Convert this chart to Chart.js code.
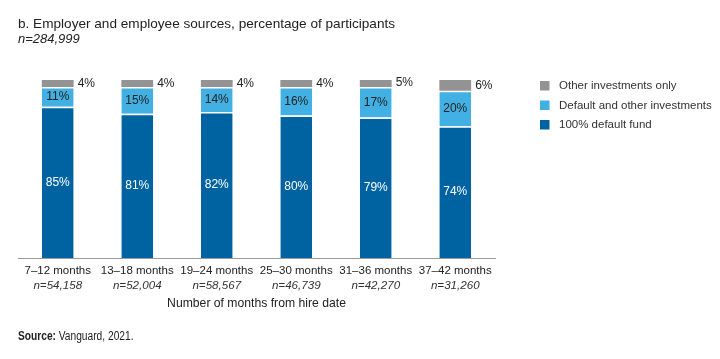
<!DOCTYPE html>
<html>
<head>
<meta charset="utf-8">
<script src="https://cdn.jsdelivr.net/npm/chart.js@4/dist/chart.umd.min.js"></script>
<style>
  html, body { margin: 0; padding: 0; background: #fff; }
  #wrap { width: 720px; height: 359px; position: relative; }
</style>
</head>
<body>
<div id="wrap"><canvas id="c" width="720" height="359"></canvas></div>
<script>
const categories = ['7–12 months', '13–18 months', '19–24 months', '25–30 months', '31–36 months', '37–42 months'];
const sampleSizes = ['n=54,158', 'n=52,004', 'n=58,567', 'n=46,739', 'n=42,270', 'n=31,260'];
const defaultFund = [85, 81, 82, 80, 79, 74];
const defaultAndOther = [11, 15, 14, 16, 17, 20];
const otherOnly = [4, 4, 4, 4, 5, 6];
const seriesNames = ['100% default fund', 'Default and other investments', 'Other investments only'];
const titleText = 'b. Employer and employee sources, percentage of participants';
const subtitleText = 'n=284,999';
const axisTitle = 'Number of months from hire date';
const sourceBold = 'Source:';
const sourceText = ' Vanguard, 2021.';

const COLORS = ['#0063A1', '#42B0E2', '#939393'];
const FONT = '"Liberation Sans", Arial, sans-serif';

const textPlugin = {
  id: 'texts',
  afterDraw(chart) {
    const ctx = chart.ctx;
    ctx.save();
    // title + subtitle
    ctx.textBaseline = 'middle';
    ctx.textAlign = 'left';
    ctx.fillStyle = '#222';
    ctx.font = '13.6px ' + FONT;
    ctx.fillText(titleText, 18, 24);
    ctx.font = 'italic 13px ' + FONT;
    ctx.fillText(subtitleText, 18, 39);

    // sample sizes below category labels
    const xs = chart.scales.x;
    ctx.font = 'italic 11.6px ' + FONT;
    ctx.textAlign = 'center';
    ctx.fillStyle = '#333';
    sampleSizes.forEach((s, i) => {
      ctx.fillText(s, xs.getPixelForValue(i), 286);
    });

    // legend (reverse order)
    ctx.textAlign = 'left';
    ctx.font = '11.5px ' + FONT;
    const order = [2, 1, 0];
    order.forEach((di, k) => {
      const y = 85.5 + k * 19.5;
      ctx.fillStyle = chart.data.datasets[di].backgroundColor;
      ctx.fillRect(540, y - 4.5, 9.5, 9.5);
      ctx.fillStyle = '#333';
      ctx.fillText(chart.data.datasets[di].label, 559, y + 0.5);
    });

    // source (condensed)
    ctx.translate(18, 0);
    ctx.scale(0.85, 1);
    ctx.font = 'bold 12px ' + FONT;
    ctx.fillStyle = '#222';
    ctx.fillText(sourceBold, 0, 337);
    const w = ctx.measureText(sourceBold).width;
    ctx.font = '12px ' + FONT;
    ctx.fillText(sourceText, w, 337);
    ctx.restore();
  },
  afterDatasetsDraw(chart) {
    const ctx = chart.ctx;
    ctx.save();
    ctx.textBaseline = 'middle';
    ctx.font = '12px ' + FONT;
    chart.data.datasets.forEach((ds, di) => {
      const meta = chart.getDatasetMeta(di);
      meta.data.forEach((bar, i) => {
        const v = ds.data[i];
        const cy = (bar.y + bar.base) / 2;
        if (di === 0) {
          ctx.fillStyle = '#fff';
          ctx.textAlign = 'center';
          ctx.fillText(v + '%', bar.x, cy);
        } else if (di === 1) {
          ctx.fillStyle = '#222';
          ctx.textAlign = 'center';
          ctx.fillText(v + '%', bar.x, cy);
        } else {
          ctx.fillStyle = '#222';
          ctx.textAlign = 'left';
          ctx.fillText(v + '%', bar.x + bar.width / 2 + 4, cy);
        }
      });
    });
    ctx.restore();
  }
};

new Chart(document.getElementById('c'), {
  type: 'bar',
  data: {
    labels: categories,
    datasets: [
      { label: seriesNames[0], data: defaultFund, backgroundColor: COLORS[0], borderColor: '#fff', borderWidth: {top: 1.5, left: 0, right: 0, bottom: 0}, borderSkipped: false },
      { label: seriesNames[1], data: defaultAndOther, backgroundColor: COLORS[1], borderColor: '#fff', borderWidth: {top: 1.5, left: 0, right: 0, bottom: 0}, borderSkipped: false },
      { label: seriesNames[2], data: otherOnly, backgroundColor: COLORS[2], borderWidth: 0 }
    ]
  },
  options: {
    responsive: false,
    animation: false,
    events: [],
    layout: { padding: { left: 18, right: 225, top: 80, bottom: 46 } },
    datasets: { bar: { barPercentage: 0.8, categoryPercentage: 0.5 } },
    plugins: {
      legend: { display: false },
      title: { display: false },
      tooltip: { enabled: false }
    },
    scales: {
      x: {
        stacked: true,
        grid: { display: false, drawTicks: false },
        border: { display: true, color: '#9a9a9a', width: 1 },
        ticks: { color: '#222', font: { family: FONT, size: 11.5 }, padding: 6, autoSkip: false, maxRotation: 0 },
        title: { display: true, text: axisTitle, color: '#222', font: { family: FONT, size: 12.2 }, padding: { top: 0, bottom: 2 } },
        afterFit(scale) { scale.height = 55; }
      },
      y: {
        stacked: true,
        display: false,
        min: 0,
        max: 100
      }
    }
  },
  plugins: [textPlugin]
});
</script>
</body>
</html>
